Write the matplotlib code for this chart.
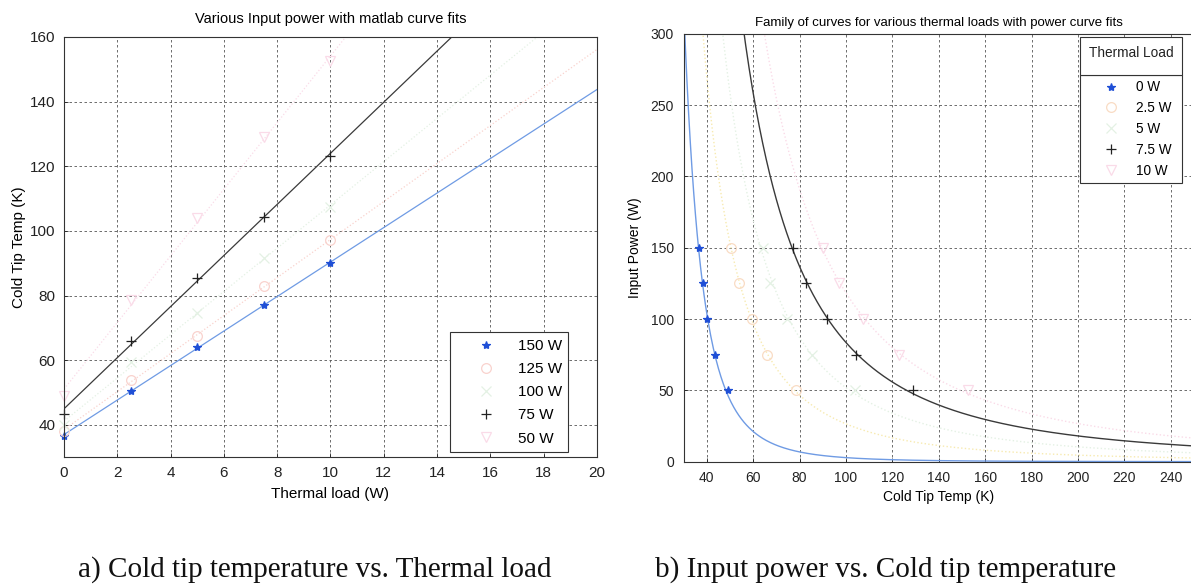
import numpy as np
import matplotlib
matplotlib.use("Agg")
import matplotlib.pyplot as plt
from matplotlib.lines import Line2D
from matplotlib.patches import Rectangle

# ---------------- data ----------------
thermal_loads = [0, 2.5, 5, 7.5, 10]                 # W
input_powers = [150, 125, 100, 75, 50]               # W
# cold tip temperature (K) per input power, at each thermal load
temp_150 = [36.6, 50.6, 64.2, 77.2, 90.0]
temp_125 = [38.2, 54.0, 67.4, 83.0, 97.2]
temp_100 = [40.0, 59.4, 74.5, 91.7, 107.5]
temp_75 = [43.5, 66.0, 85.6, 104.4, 123.1]
temp_50 = [49.0, 78.5, 104.0, 129.1, 152.5]

power_labels = ["150 W", "125 W", "100 W", "75 W", "50 W"]
load_labels = ["0 W", "2.5 W", "5 W", "7.5 W", "10 W"]

left_xticks = list(range(0, 21, 2))
left_yticks = list(range(40, 161, 20))
right_xticks = list(range(40, 241, 20))
right_yticks = list(range(0, 301, 50))

# ---------------- style ----------------
W, H = 1191, 586
fig = plt.figure(figsize=(W / 100, H / 100), dpi=100)
plt.rcParams['font.family'] = ['Liberation Sans', 'DejaVu Sans']

blue_m, blue_l = '#1f4fd6', '#6f9be4'
black_m, black_l = '#222222', '#3a3a3a'
pale_red = '#f9d2cd'
pale_green = '#e4f1e4'
pale_mag = '#fadbe8'
pale_orange = '#f9dcc4'
pale_yellow = '#f7eab0'

grid_kw = dict(color='#555555', linestyle=(0, (3, 3)), linewidth=0.6)


def px(x0, y0, x1, y1):
    return [x0 / W, 1 - y1 / H, (x1 - x0) / W, (y1 - y0) / H]


def style_axes(ax, fs, pad):
    for s in ax.spines.values():
        s.set_color('#333333')
        s.set_linewidth(0.8)
    ax.tick_params(direction='in', length=3, width=0.6, labelsize=fs,
                   colors='#222222', pad=pad)
    ax.grid(True, **grid_kw)
    ax.set_axisbelow(True)


def marker_kw(m, c):
    return dict(ls='none', marker=m, color=c,
                mfc='none' if m in ('o', 'v') else c,
                ms=6 if m == '*' else 7, mew=0.9)


# ---------------- left chart ----------------
ax1 = fig.add_axes(px(64, 37, 597, 457.3))
series = [temp_150, temp_125, temp_100, temp_75, temp_50]
mk = ['*', 'o', 'x', '+', 'v']
mcol = [blue_m, pale_red, pale_green, black_m, pale_mag]
lcol = [blue_l, pale_red, pale_green, black_l, pale_mag]
lsty = ['-', ':', ':', '-', ':']
xfit = np.linspace(0, 20, 200)
for temps, m, mc, lc, ls in zip(series, mk, mcol, lcol, lsty):
    k, c = np.polyfit(thermal_loads, temps, 1)
    ax1.plot(xfit, k * xfit + c, color=lc, lw=0.9, ls=ls)
    ax1.plot(thermal_loads, temps, clip_on=False, **marker_kw(m, mc))
ax1.set_xlim(0, 20)
ax1.set_ylim(30, 160)
ax1.set_xticks(left_xticks)
ax1.set_yticks(left_yticks)
style_axes(ax1, 11, 6)
ax1.set_title("Various Input power with matlab curve fits", fontsize=10.5, pad=10)
ax1.set_xlabel("Thermal load (W)", fontsize=11, labelpad=5)
ax1.set_ylabel("Cold Tip Temp (K)", fontsize=11, labelpad=3)

handles1 = [Line2D([], [], **marker_kw(m, mc)) for m, mc in zip(mk, mcol)]
leg1 = ax1.legend(handles1, power_labels, loc='upper left',
                  bbox_to_anchor=px(450, 332, 568, 451), bbox_transform=fig.transFigure,
                  mode='expand', borderaxespad=0, fontsize=11, handlelength=3.8,
                  handletextpad=0.2, labelspacing=0.6, borderpad=0.45, fancybox=False,
                  framealpha=1, edgecolor='#333333')
leg1.get_frame().set_linewidth(0.8)

# ---------------- right chart ----------------
ax2 = fig.add_axes(px(683.5, 33.9, 1193.9, 461.7))
by_load = np.array(series).T   # rows: thermal loads, cols: input powers
mk2 = ['*', 'o', 'x', '+', 'v']
mcol2 = [blue_m, pale_orange, pale_green, black_m, pale_mag]
lcol2 = [blue_l, pale_yellow, pale_green, black_l, pale_mag]
lsty2 = ['-', ':', ':', '-', ':']
tfit = np.linspace(30, 250, 600)
pw = np.array(input_powers, dtype=float)
for temps, m, mc, lc, ls in zip(by_load, mk2, mcol2, lcol2, lsty2):
    t = np.asarray(temps, dtype=float)
    best = None
    for b in np.linspace(-8, -0.5, 3000):   # power fit P = a*T^b (least squares)
        xb = t ** b
        a = np.sum(pw * xb) / np.sum(xb * xb)
        sse = np.sum((a * xb - pw) ** 2)
        if best is None or sse < best[0]:
            best = (sse, a, b)
    _, a, b = best
    ax2.plot(tfit, a * tfit ** b, color=lc, lw=1.0, ls=ls)
    ax2.plot(t, pw, clip_on=False, **marker_kw(m, mc))
ax2.set_xlim(30, 250)
ax2.set_ylim(0, 300)
ax2.set_xticks(right_xticks)
ax2.set_yticks(right_yticks)
style_axes(ax2, 10, 7)
ax2.spines['right'].set_visible(False)
ax2.set_title("Family of curves for various thermal loads with power curve fits",
              fontsize=9.5, pad=6)
ax2.set_xlabel("Cold Tip Temp (K)", fontsize=10, labelpad=3)
ax2.set_ylabel("Input Power (W)", fontsize=10, labelpad=6)

handles2 = [Line2D([], [], **marker_kw(m, mc)) for m, mc in zip(mk2, mcol2)]
leg2 = ax2.legend(handles2, load_labels, loc='upper left',
                  bbox_to_anchor=px(1080, 75, 1182, 180), bbox_transform=fig.transFigure,
                  mode='expand', borderaxespad=0, fontsize=9.8, handlelength=3.7,
                  handletextpad=0.05, labelspacing=0.5, borderpad=0.4, fancybox=False,
                  framealpha=1, edgecolor='#333333')
leg2.get_frame().set_linewidth(0.8)
r = px(1080, 36.7, 1182, 75)
fig.add_artist(Rectangle((r[0], r[1]), r[2], r[3], transform=fig.transFigure,
                         facecolor='white', edgecolor='#333333', lw=0.8, zorder=5))
fig.text(1131 / W, 1 - 53 / H, "Thermal Load", fontsize=9.8, ha='center', va='center',
         color='#222222', zorder=6)

# ---------------- captions ----------------
cap_kw = dict(fontsize=21, family=['Liberation Serif', 'DejaVu Serif'],
              ha='center', va='center', color='#111111')
fig.text(315 / W, 1 - 570 / H, "a) Cold tip temperature vs. Thermal load", **cap_kw)
fig.text(886 / W, 1 - 570 / H, "b) Input power vs. Cold tip temperature", **cap_kw)

fig.savefig("out.png", dpi=100)
